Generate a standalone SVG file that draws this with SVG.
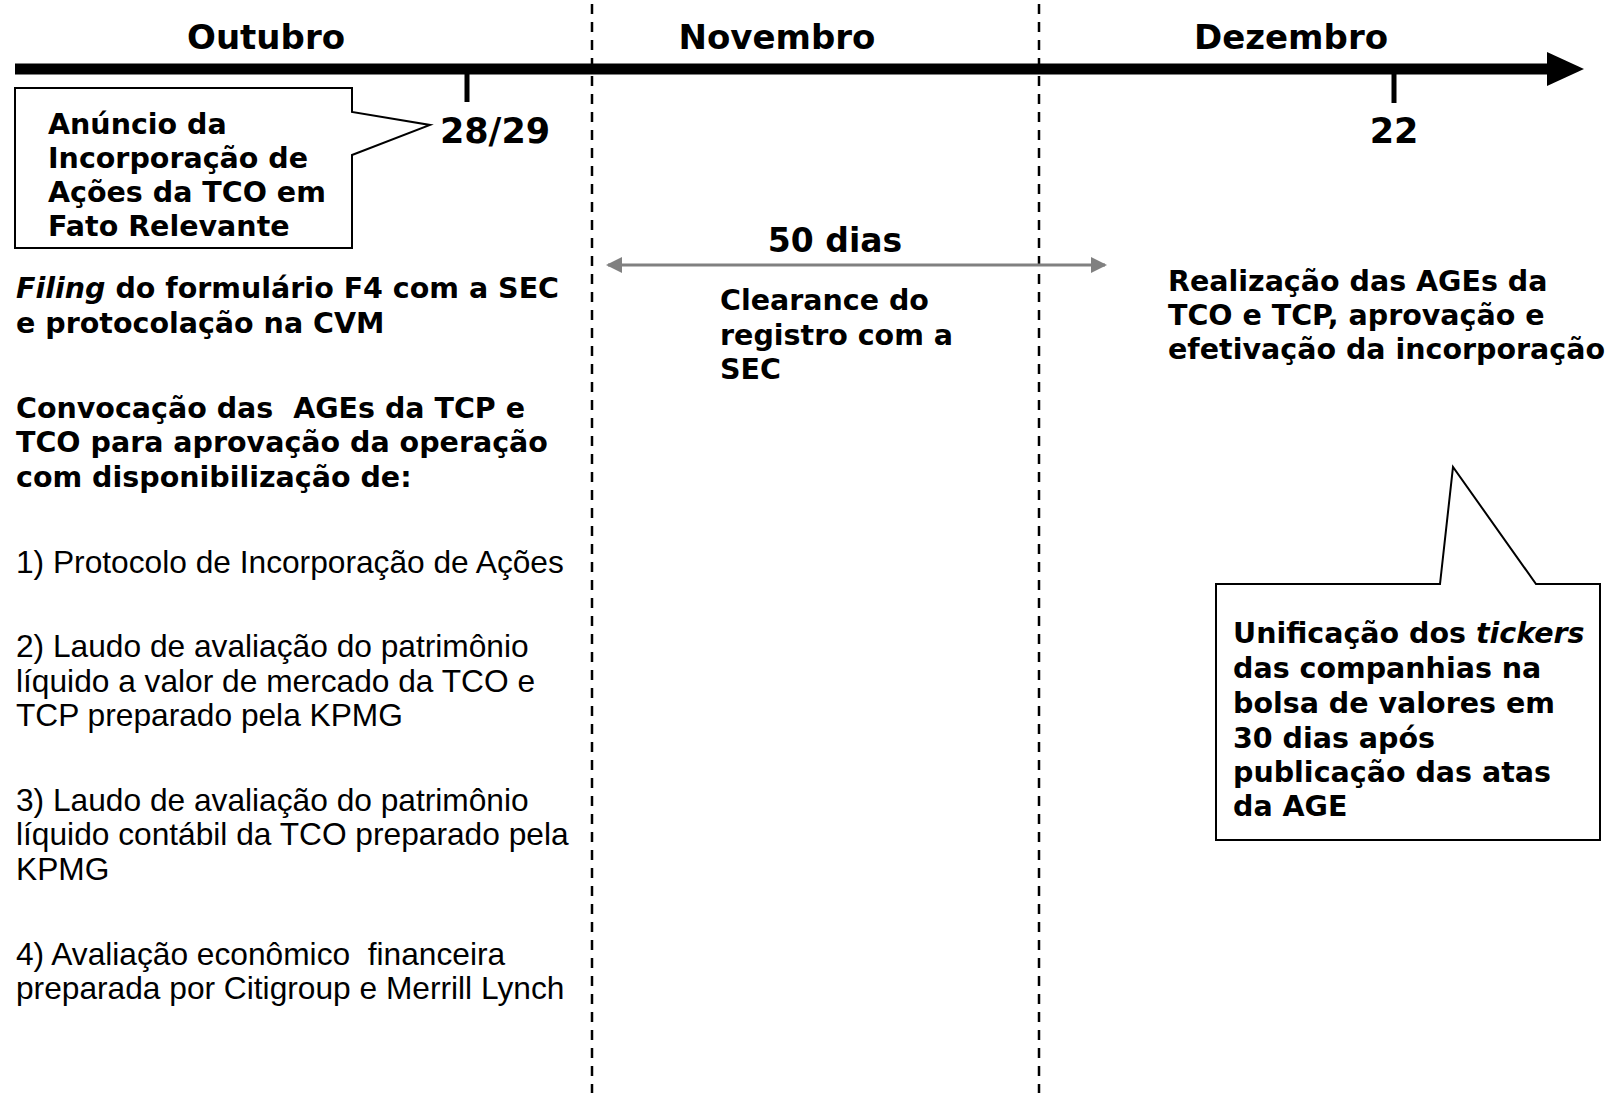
<svg xmlns="http://www.w3.org/2000/svg" width="1620" height="1093" viewBox="0 0 1620 1093">
<style>
.b{font-family:"DejaVu Sans","Liberation Sans",sans-serif;font-weight:bold;font-size:28.5px;fill:#000}
.m{font-family:"DejaVu Sans","Liberation Sans",sans-serif;font-weight:bold;font-size:34px;fill:#000}
.d{font-family:"DejaVu Sans","Liberation Sans",sans-serif;font-weight:bold;font-size:35px;fill:#000}
.r{font-family:"Liberation Sans",Arial,sans-serif;font-size:31.7px;fill:#000}
.i{font-style:italic}
.dash{stroke:#000;stroke-width:2.5;stroke-dasharray:10 8;fill:none}
.call{fill:#fff;stroke:#000;stroke-width:2}
</style>
<defs>
<marker id="ga" viewBox="0 0 16 16" refX="14" refY="8" markerWidth="16" markerHeight="16" markerUnits="userSpaceOnUse" orient="auto-start-reverse">
<path d="M0,0 L16,8 L0,16 z" fill="#808080"/>
</marker>
</defs>
<rect width="1620" height="1093" fill="#fff"/>

<g id="dividers">
<line class="dash" x1="592" y1="4" x2="592" y2="1093"/>
<line class="dash" x1="1039" y1="4" x2="1039" y2="1093"/>
</g>

<g id="timeline">
<rect x="15" y="63.5" width="1535" height="11" fill="#000"/>
<polygon points="1547,52 1584,69 1547,86" fill="#000"/>
<rect x="464.5" y="70" width="5" height="32" fill="#000"/>
<rect x="1391.5" y="70" width="5" height="33" fill="#000"/>
</g>

<g id="months">
<text class="m" x="266" y="48.5" text-anchor="middle">Outubro</text>
<text class="m" x="777" y="48.5" text-anchor="middle">Novembro</text>
<text class="m" x="1291" y="48.5" text-anchor="middle">Dezembro</text>
</g>

<g id="date-2829"><text class="d" x="495" y="143" text-anchor="middle">28/29</text></g>
<g id="date-22"><text class="d" x="1394" y="143" text-anchor="middle">22</text></g>

<g id="callout-anuncio">
<polygon class="call" points="15,88 352,88 352,112 430,125 352,155 352,248 15,248"/>
<text class="b" x="48" y="134">Anúncio da</text>
<text class="b" x="48" y="168">Incorporação de</text>
<text class="b" x="48" y="202">Ações da TCO em</text>
<text class="b" x="48" y="236">Fato Relevante</text>
</g>

<g id="filing">
<text class="b" x="16" y="298"><tspan class="i">Filing</tspan> do formulário F4 com a SEC</text>
<text class="b" x="16" y="333">e protocolação na CVM</text>
</g>

<g id="convocacao">
<text class="b" x="16" y="418" xml:space="preserve">Convocação das  AGEs da TCP e</text>
<text class="b" x="16" y="452">TCO para aprovação da operação</text>
<text class="b" x="16" y="487">com disponibilização de:</text>
</g>

<g id="item1"><text class="r" x="16" y="573">1) Protocolo de Incorporação de Ações</text></g>
<g id="item2">
<text class="r" x="16" y="657">2) Laudo de avaliação do patrimônio</text>
<text class="r" x="16" y="692">líquido a valor de mercado da TCO e</text>
<text class="r" x="16" y="726">TCP preparado pela KPMG</text>
</g>
<g id="item3">
<text class="r" x="16" y="811">3) Laudo de avaliação do patrimônio</text>
<text class="r" x="16" y="845">líquido contábil da TCO preparado pela</text>
<text class="r" x="16" y="880">KPMG</text>
</g>
<g id="item4">
<text class="r" x="16" y="965" xml:space="preserve">4) Avaliação econômico  financeira</text>
<text class="r" x="16" y="999">preparada por Citigroup e Merrill Lynch</text>
</g>

<g id="connectors">
<line x1="608" y1="265" x2="1105" y2="265" stroke="#808080" stroke-width="3" marker-start="url(#ga)" marker-end="url(#ga)"/>
</g>

<g id="prazo">
<text class="m" x="835" y="252" text-anchor="middle" style="font-size:33px">50 dias</text>
</g>

<g id="clearance">
<text class="b" x="720" y="310">Clearance do</text>
<text class="b" x="720" y="345">registro com a</text>
<text class="b" x="720" y="379">SEC</text>
</g>

<g id="realizacao">
<text class="b" x="1168" y="291">Realização das AGEs da</text>
<text class="b" x="1168" y="325">TCO e TCP, aprovação e</text>
<text class="b" x="1168" y="359">efetivação da incorporação</text>
</g>

<g id="callout-tickers">
<polygon class="call" points="1216,584 1440,584 1453,467 1536,584 1600,584 1600,840 1216,840"/>
<text class="b" x="1233" y="643">Unificação dos <tspan class="i">tickers</tspan></text>
<text class="b" x="1233" y="678">das companhias na</text>
<text class="b" x="1233" y="713">bolsa de valores em</text>
<text class="b" x="1233" y="748">30 dias após</text>
<text class="b" x="1233" y="782">publicação das atas</text>
<text class="b" x="1233" y="816">da AGE</text>
</g>
</svg>
